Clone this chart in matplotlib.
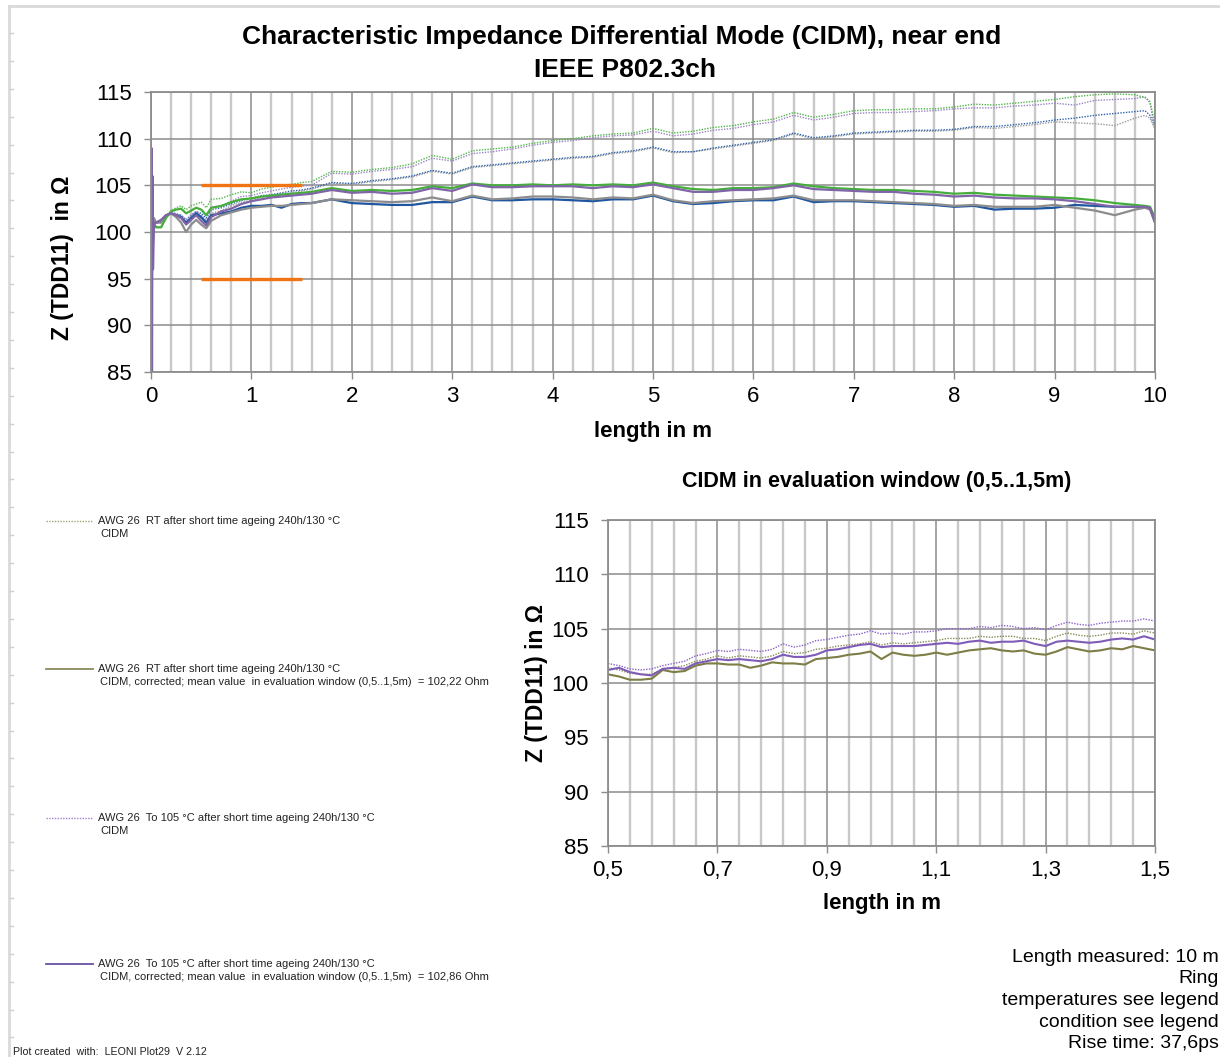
import numpy as np
import matplotlib
matplotlib.use('Agg')
import matplotlib.pyplot as plt
from matplotlib.lines import Line2D
from matplotlib.ticker import MultipleLocator, FixedLocator, FuncFormatter

plt.rcParams['font.family'] = ['Liberation Sans', 'DejaVu Sans']

# ---- full length trace, 0..10 m ----
x_full = [0.0, 0.005, 0.01, 0.015, 0.02, 0.03, 0.05,
          0.1, 0.15, 0.2, 0.25, 0.3, 0.35, 0.4, 0.45, 0.5, 0.55, 0.6,
          0.7, 0.8, 0.9, 1.0, 1.1, 1.2, 1.3, 1.4, 1.5, 1.6,
          1.8, 2.0, 2.2, 2.4, 2.6, 2.8, 3.0, 3.2, 3.4, 3.6, 3.8, 4.0,
          4.2, 4.4, 4.6, 4.8, 5.0, 5.2, 5.4, 5.6, 5.8, 6.0,
          6.2, 6.4, 6.6, 6.8, 7.0, 7.2, 7.4, 7.6, 7.8, 8.0,
          8.2, 8.4, 8.6, 8.8, 9.0, 9.2, 9.4, 9.6, 9.8,
          9.9, 9.95, 10.0]

# raw CIDM (dotted)
raw_green = [100.0, 106.0, 98.5, 103.0, 100.0, 101.0, 100.5,
             100.5, 101.6, 102.3, 102.6, 102.8, 102.4, 102.8, 103.0, 103.2, 102.6, 103.5,
             103.6, 104.0, 104.3, 104.2, 104.6, 104.8, 105.0, 105.1, 105.3, 105.4,
             106.5, 106.4, 106.7, 106.9, 107.3, 108.2, 107.8, 108.7, 108.9, 109.1, 109.5, 109.8,
             110.0, 110.3, 110.5, 110.6, 111.1, 110.6, 110.8, 111.2, 111.4, 111.8,
             112.1, 112.8, 112.3, 112.6, 113.0, 113.1, 113.1, 113.2, 113.2, 113.4,
             113.7, 113.6, 113.8, 114.0, 114.2, 114.5, 114.7, 114.8, 114.7,
             114.4, 114.0, 111.5]
raw_purple = [100.0, 105.0, 97.0, 103.0, 99.5, 101.0, 101.0,
              101.3, 101.8, 102.1, 102.0, 101.8, 101.3, 101.8, 102.2, 101.8, 101.3, 102.3,
              102.8, 103.3, 103.8, 103.9, 104.2, 104.4, 104.6, 104.8, 104.9, 105.0,
              106.3, 106.2, 106.5, 106.7, 107.0, 107.9, 107.6, 108.4, 108.6, 108.9, 109.3, 109.6,
              109.8, 110.1, 110.3, 110.4, 110.8, 110.3, 110.5, 110.9, 111.1, 111.5,
              111.8, 112.5, 112.0, 112.3, 112.7, 112.8, 112.8, 112.9, 113.0, 113.2,
              113.3, 113.3, 113.5, 113.6, 113.8, 113.6, 114.1, 114.2, 114.3,
              114.5, 113.8, 111.0]
raw_blue = [100.0, 104.0, 98.0, 102.5, 100.0, 101.0, 101.0,
            101.2, 101.8, 102.0, 101.9, 101.8, 101.3, 101.8, 102.2, 102.0, 101.5, 102.4,
            102.6, 103.0, 103.4, 103.6, 103.9, 104.0, 104.2, 104.4, 104.5, 104.7,
            105.3, 105.2, 105.5, 105.7, 106.0, 106.6, 106.3, 107.0, 107.2, 107.4, 107.6, 107.8,
            108.0, 108.1, 108.5, 108.7, 109.1, 108.6, 108.6, 109.0, 109.3, 109.6,
            109.9, 110.6, 110.1, 110.3, 110.6, 110.7, 110.8, 110.9, 110.9, 111.0,
            111.3, 111.3, 111.5, 111.7, 112.0, 112.2, 112.5, 112.7, 112.9,
            113.0, 112.5, 111.3]
raw_gray = [100.0, 104.0, 97.5, 102.5, 100.0, 101.0, 101.0,
            101.0, 101.7, 102.0, 101.8, 101.4, 100.8, 101.4, 101.8, 101.5, 101.0, 102.0,
            102.3, 102.8, 103.2, 103.4, 103.7, 103.9, 104.1, 104.2, 104.4, 104.6,
            105.2, 105.1, 105.4, 105.6, 105.9, 106.5, 106.2, 106.9, 107.1, 107.3, 107.5, 107.7,
            107.9, 108.0, 108.4, 108.6, 109.0, 108.5, 108.6, 108.9, 109.2, 109.5,
            109.8, 110.5, 110.0, 110.2, 110.5, 110.6, 110.7, 110.8, 110.8, 110.9,
            111.2, 111.1, 111.3, 111.5, 111.8, 111.7, 111.6, 111.4, 112.2,
            112.5, 112.2, 111.0]

# corrected CIDM (solid)
corr_green = [100.0, 107.0, 98.0, 104.0, 99.0, 101.0, 100.5,
              100.5, 101.5, 102.2, 102.4, 102.5, 102.0, 102.3, 102.6, 102.4, 101.8, 102.6,
              102.8, 103.2, 103.5, 103.6, 103.8, 103.9, 104.0, 104.1, 104.2, 104.3,
              104.7, 104.4, 104.5, 104.4, 104.5, 104.9, 104.7, 105.2, 105.0, 105.0, 105.1, 105.0,
              105.1, 105.0, 105.1, 105.0, 105.3, 104.9, 104.6, 104.5, 104.7, 104.7,
              104.8, 105.2, 104.9, 104.7, 104.6, 104.5, 104.5, 104.4, 104.3, 104.1,
              104.2, 104.0, 103.9, 103.8, 103.7, 103.6, 103.4, 103.1, 102.9,
              102.8, 102.7, 101.5]
corr_purple = [100.0, 109.0, 85.0, 106.0, 96.0, 101.0, 101.0,
               101.3, 101.8, 102.0, 101.8, 101.5, 100.8, 101.3, 101.8, 101.2, 100.7, 101.6,
               102.2, 102.5, 103.0, 103.3, 103.5, 103.7, 103.8, 103.9, 104.0, 104.1,
               104.5, 104.2, 104.3, 104.1, 104.2, 104.7, 104.4, 105.1, 104.8, 104.8, 104.9, 104.9,
               104.9, 104.7, 104.9, 104.8, 105.1, 104.7, 104.3, 104.3, 104.5, 104.5,
               104.7, 105.0, 104.6, 104.5, 104.4, 104.3, 104.3, 104.1, 104.0, 103.8,
               103.9, 103.7, 103.6, 103.6, 103.5, 103.3, 103.0, 102.7, 102.7,
               102.7, 102.6, 101.0]
corr_gray = [100.0, 104.0, 97.0, 103.0, 100.0, 101.5, 101.0,
             101.0, 101.7, 102.0, 101.6, 101.0, 100.0, 100.8, 101.3, 100.8, 100.4, 101.2,
             101.8, 102.1, 102.4, 102.6, 102.7, 102.8, 102.8, 102.9, 103.0, 103.1,
             103.5, 103.4, 103.3, 103.2, 103.3, 103.7, 103.3, 103.9, 103.5, 103.6, 103.8, 103.8,
             103.7, 103.5, 103.7, 103.6, 104.0, 103.4, 103.1, 103.3, 103.4, 103.5,
             103.6, 103.9, 103.4, 103.4, 103.4, 103.3, 103.2, 103.1, 103.0, 102.8,
             102.9, 102.7, 102.7, 102.7, 102.9, 102.6, 102.3, 101.8, 102.4,
             102.6, 102.4, 101.0]
corr_blue = [100.0, 103.0, 98.0, 102.5, 100.0, 101.0, 101.0,
             101.2, 101.8, 102.0, 101.8, 101.6, 101.0, 101.5, 102.0, 101.6, 101.0, 101.8,
             102.0, 102.2, 102.6, 102.8, 102.8, 102.9, 102.6, 103.0, 103.1, 103.1,
             103.5, 103.1, 103.0, 102.9, 102.9, 103.2, 103.2, 103.8, 103.4, 103.4, 103.5, 103.5,
             103.4, 103.3, 103.5, 103.5, 103.9, 103.3, 103.0, 103.1, 103.3, 103.4,
             103.4, 103.8, 103.2, 103.3, 103.3, 103.2, 103.1, 103.0, 102.9, 102.7,
             102.8, 102.4, 102.5, 102.5, 102.6, 102.9, 102.8, 102.7, 102.7,
             102.7, 102.6, 101.2]

# limit lines of the evaluation window
limit_x = [0.5, 1.5]
limit_hi = 105
limit_lo = 95

# ---- evaluation window, 0.5..1.5 m ----
x_win = [0.50, 0.52, 0.54, 0.56, 0.58, 0.60, 0.62, 0.64, 0.66, 0.68,
         0.70, 0.72, 0.74, 0.76, 0.78, 0.80, 0.82, 0.84, 0.86, 0.88,
         0.90, 0.92, 0.94, 0.96, 0.98, 1.00, 1.02, 1.04, 1.06, 1.08,
         1.10, 1.12, 1.14, 1.16, 1.18, 1.20, 1.22, 1.24, 1.26, 1.28,
         1.30, 1.32, 1.34, 1.36, 1.38, 1.40, 1.42, 1.44, 1.46, 1.48, 1.50]
win_to105_raw = [101.8, 101.6, 101.3, 101.2, 101.3, 101.6, 101.8, 102.0, 102.5, 102.7,
                 103.0, 102.9, 103.1, 103.0, 102.9, 103.1, 103.6, 103.3, 103.5, 103.9,
                 104.0, 104.2, 104.4, 104.5, 104.8, 104.5, 104.6, 104.5, 104.7, 104.7,
                 104.8, 105.0, 105.0, 105.0, 105.2, 105.1, 105.3, 105.2, 105.0, 105.1,
                 104.9, 105.3, 105.6, 105.4, 105.3, 105.5, 105.6, 105.7, 105.7, 105.9, 105.7]
win_rt_raw = [101.4, 101.2, 100.9, 100.8, 100.8, 101.3, 101.4, 101.6, 102.0, 102.2,
              102.5, 102.3, 102.5, 102.4, 102.3, 102.5, 102.9, 102.7, 102.8, 103.1,
              103.2, 103.4, 103.5, 103.6, 103.8, 103.5, 103.7, 103.6, 103.7, 103.8,
              103.9, 104.1, 104.1, 104.1, 104.3, 104.2, 104.3, 104.3, 104.1, 104.1,
              103.9, 104.3, 104.6, 104.4, 104.3, 104.4, 104.6, 104.6, 104.5, 104.8, 104.6]
win_to105_corr = [101.2, 101.4, 101.0, 100.8, 100.7, 101.3, 101.4, 101.3, 101.8, 102.0,
                  102.2, 102.1, 102.2, 102.1, 102.0, 102.2, 102.6, 102.4, 102.4, 102.6,
                  103.0, 103.1, 103.3, 103.5, 103.6, 103.3, 103.4, 103.4, 103.4, 103.5,
                  103.6, 103.7, 103.6, 103.8, 103.9, 103.7, 103.8, 103.8, 103.9, 103.6,
                  103.4, 103.8, 103.9, 103.8, 103.7, 103.8, 104.0, 104.1, 104.0, 104.3, 104.0]
win_rt_corr = [100.8, 100.6, 100.3, 100.3, 100.4, 101.2, 101.0, 101.1, 101.6, 101.8,
               101.8, 101.7, 101.7, 101.4, 101.6, 101.9, 101.8, 101.8, 101.7, 102.2,
               102.3, 102.4, 102.6, 102.7, 102.9, 102.2, 102.8, 102.6, 102.5, 102.6,
               102.8, 102.6, 102.8, 103.0, 103.1, 103.2, 103.0, 102.9, 103.0, 102.7,
               102.6, 102.9, 103.3, 103.1, 102.9, 103.0, 103.2, 103.1, 103.4, 103.2, 103.0]

win_ticks = [0.5, 0.7, 0.9, 1.1, 1.3, 1.5]
legend_labels = [
    ('AWG 26  RT after short time ageing 240h/130 °C', 'CIDM'),
    ('AWG 26  RT after short time ageing 240h/130 °C',
     'CIDM, corrected; mean value  in evaluation window (0,5..1,5m)  = 102,22 Ohm'),
    ('AWG 26  To 105 °C after short time ageing 240h/130 °C', 'CIDM'),
    ('AWG 26  To 105 °C after short time ageing 240h/130 °C',
     'CIDM, corrected; mean value  in evaluation window (0,5..1,5m)  = 102,86 Ohm'),
]
notes = ['Length measured: 10 m', 'Ring', 'temperatures see legend',
         'condition see legend', 'Rise time: 37,6ps']

W, H = 1220, 1057
fig = plt.figure(figsize=(W / 100, H / 100), dpi=100)


def fx(px):
    return px / W


def fy(py):
    return 1 - py / H


def add_axes_px(left, top, right, bottom):
    return fig.add_axes([fx(left), fy(bottom), (right - left) / W, (bottom - top) / H])


def style_axes(ax):
    ax.set_ylim(85, 115)
    ax.yaxis.set_major_locator(MultipleLocator(5))
    ax.grid(which='minor', axis='x', color='#c8c8c8', lw=1.7)
    ax.grid(which='major', axis='both', color='#8c8c8c', lw=1.1)
    ax.tick_params(which='minor', length=0)
    ax.tick_params(which='major', length=5, width=1, color='#8c8c8c',
                   labelsize=16, pad=5)
    ax.tick_params(axis='y', which='major', pad=9)
    for s in ax.spines.values():
        s.set_color('#8c8c8c')
        s.set_linewidth(1.3)
    ax.set_axisbelow(True)


# page frame with ruler marks
fig.add_artist(Line2D([fx(9), fx(9)], [fy(6), 0], color='#d9d9d9', lw=2))
fig.add_artist(Line2D([fx(9), 1], [fy(6), fy(6)], color='#d9d9d9', lw=2))
for yy in np.arange(33, H, 27.9):
    fig.add_artist(Line2D([fx(10), fx(13)], [fy(yy), fy(yy)], color='#cfcfcf', lw=1))

# ---- main chart ----
ax1 = add_axes_px(151, 92, 1155, 372)
style_axes(ax1)
ax1.set_xlim(0, 10)
ax1.xaxis.set_major_locator(MultipleLocator(1))
ax1.xaxis.set_minor_locator(MultipleLocator(0.2))

ax1.plot(x_full, raw_gray, color='#9a9a9a', lw=1.0, ls=(0, (1, 1)))
ax1.plot(x_full, raw_blue, color='#2b62ad', lw=1.0, ls=(0, (1, 1)))
ax1.plot(x_full, raw_purple, color='#9b84c4', lw=1.0, ls=(0, (1, 1)))
ax1.plot(x_full, raw_green, color='#4fb848', lw=1.0, ls=(0, (1, 1)))
ax1.plot(x_full, corr_blue, color='#1f56a0', lw=1.6)
ax1.plot(x_full, corr_gray, color='#8c8c8c', lw=1.6)
ax1.plot(x_full, corr_green, color='#45ae3a', lw=1.6)
ax1.plot(x_full, corr_purple, color='#8064a8', lw=1.6)
ax1.plot(limit_x, [limit_hi, limit_hi], color='#f07414', lw=2.4, solid_capstyle='butt')
ax1.plot(limit_x, [limit_lo, limit_lo], color='#f07414', lw=2.4, solid_capstyle='butt')

fig.text(fx(622), fy(37), 'Characteristic Impedance Differential Mode (CIDM), near end',
         ha='center', va='center', fontsize=19, fontweight='bold')
fig.text(fx(625), fy(70), 'IEEE P802.3ch', ha='center', va='center',
         fontsize=19, fontweight='bold')
fig.text(fx(653), fy(432), 'length in m', ha='center', va='center',
         fontsize=16, fontweight='bold')
fig.text(fx(62), fy(258), 'Z (TDD11)  in Ω', ha='center', va='center',
         rotation=90, fontsize=16.5, fontweight='bold')

# ---- evaluation window chart ----
ax2 = add_axes_px(608, 520, 1155, 846)
style_axes(ax2)
ax2.set_xlim(0.5, 1.5)
ax2.xaxis.set_major_locator(FixedLocator(win_ticks))
ax2.xaxis.set_minor_locator(FixedLocator(np.arange(0.5, 1.5001, 0.04)))
ax2.xaxis.set_major_formatter(FuncFormatter(lambda v, p: f'{v:.1f}'.replace('.', ',')))

ax2.plot(x_win, win_rt_raw, color='#8a8a58', lw=1.0, ls=(0, (1, 1)))
ax2.plot(x_win, win_to105_raw, color='#8a62c8', lw=1.0, ls=(0, (1, 1)))
ax2.plot(x_win, win_rt_corr, color='#7d7d45', lw=1.5)
ax2.plot(x_win, win_to105_corr, color='#7e5cb8', lw=1.5)

fig.text(fx(877), fy(482), 'CIDM in evaluation window (0,5..1,5m)', ha='center',
         va='center', fontsize=15.5, fontweight='bold')
fig.text(fx(882), fy(904), 'length in m', ha='center', va='center',
         fontsize=16, fontweight='bold')
fig.text(fx(536), fy(683), 'Z (TDD11) in Ω', ha='center', va='center',
         rotation=90, fontsize=16.5, fontweight='bold')

# ---- legend ----
legend_styles = [
    dict(color='#a3a37a', lw=1.0, ls=(0, (1, 1))),
    dict(color='#8a8a5c', lw=1.3),
    dict(color='#a07fd4', lw=1.0, ls=(0, (1, 1))),
    dict(color='#6a52a6', lw=1.3),
]
legend_y = [521, 669, 818, 964]
for (l1, l2), st, yy in zip(legend_labels, legend_styles, legend_y):
    fig.add_artist(Line2D([fx(46), fx(93)], [fy(yy), fy(yy)], **st))
    fig.text(fx(98), fy(yy), l1, ha='left', va='center', fontsize=8, color='#222222')
    fig.text(fx(100), fy(yy + 13), l2, ha='left', va='center', fontsize=8,
             color='#222222')

# ---- measurement notes ----
for i, t in enumerate(notes):
    fig.text(fx(1219), fy(957 + 21.7 * i), t, ha='right', va='center', fontsize=14)

fig.text(fx(13), fy(1052), 'Plot created  with:  LEONI Plot29  V 2.12', ha='left',
         va='center', fontsize=7.7, color='#222222')

fig.savefig('out.png', dpi=100)
